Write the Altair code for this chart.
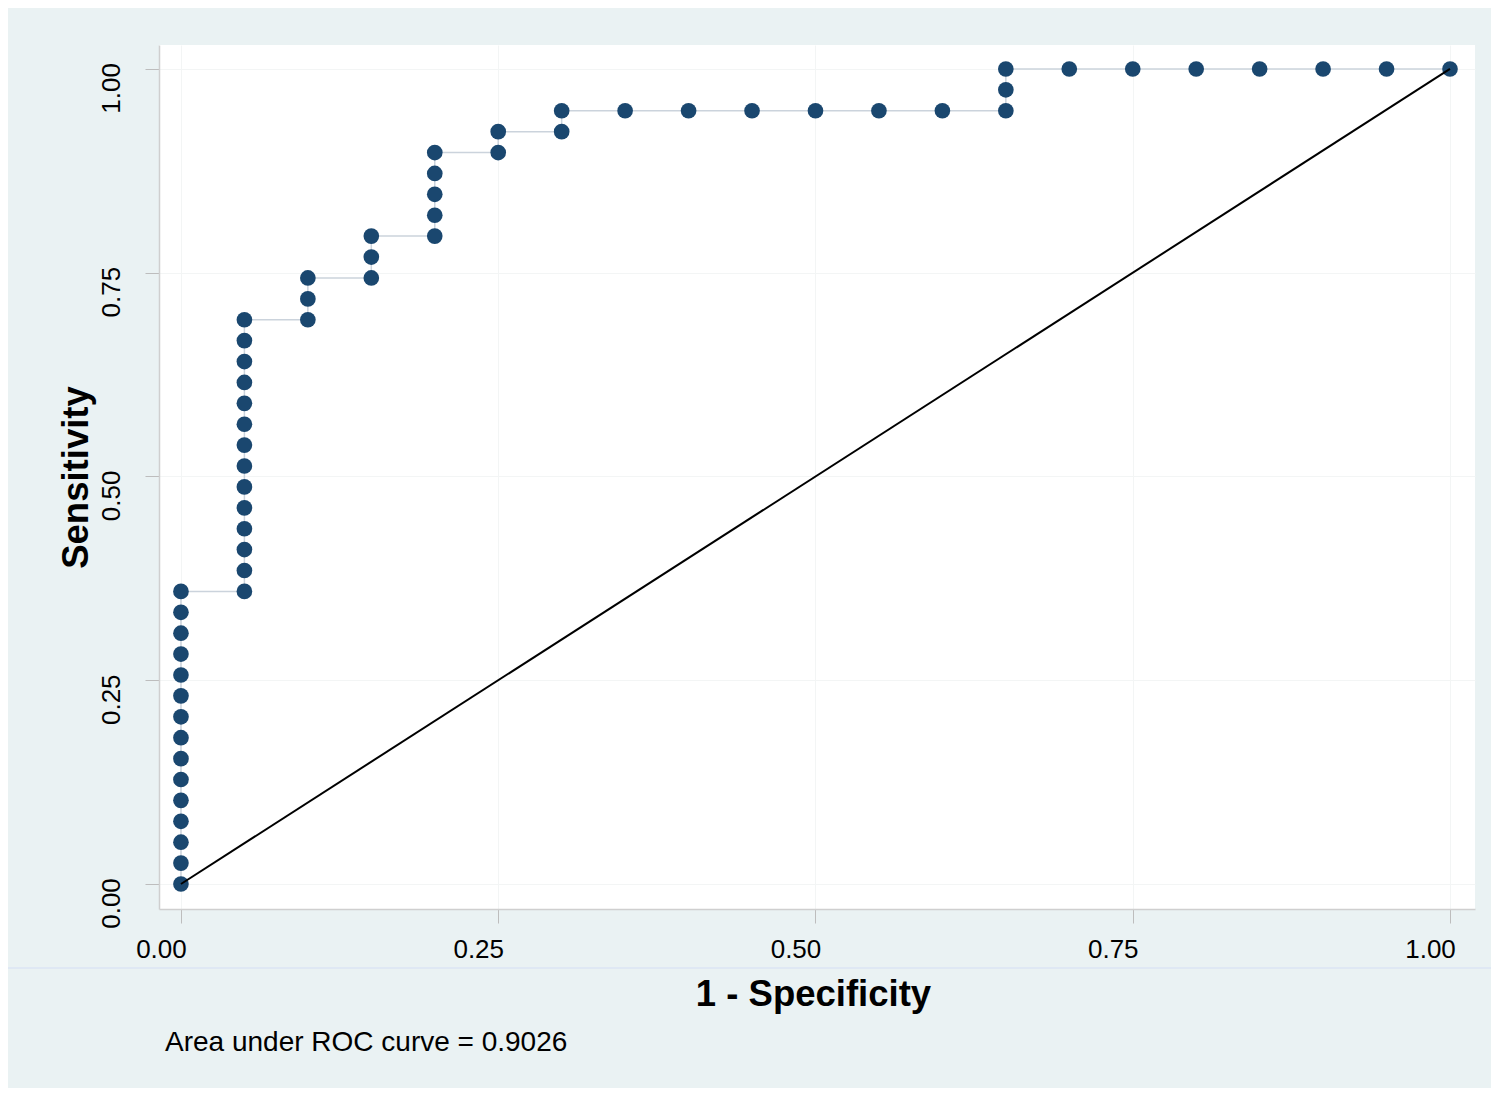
import altair as alt
import pandas as pd

# ROC points (1 - specificity, sensitivity), in curve order
fpr = [0.00, 0.00, 0.00, 0.00, 0.00, 0.00, 0.00, 0.00, 0.00, 0.00, 0.00, 0.00, 0.00, 0.00, 0.00,
       0.05, 0.05, 0.05, 0.05, 0.05, 0.05, 0.05, 0.05, 0.05, 0.05, 0.05, 0.05, 0.05, 0.05,
       0.10, 0.10, 0.10,
       0.15, 0.15, 0.15,
       0.20, 0.20, 0.20, 0.20, 0.20,
       0.25, 0.25,
       0.30, 0.30,
       0.35, 0.40, 0.45, 0.50, 0.55, 0.60,
       0.65, 0.65, 0.65,
       0.70, 0.75, 0.80, 0.85, 0.90, 0.95, 1.00]
sens = [0.0000, 0.0256, 0.0513, 0.0769, 0.1026, 0.1282, 0.1538, 0.1795, 0.2051, 0.2308,
        0.2564, 0.2821, 0.3077, 0.3333, 0.3590,
        0.3590, 0.3846, 0.4103, 0.4359, 0.4615, 0.4872, 0.5128, 0.5385, 0.5641, 0.5897,
        0.6154, 0.6410, 0.6667, 0.6923,
        0.6923, 0.7179, 0.7436,
        0.7436, 0.7692, 0.7949,
        0.7949, 0.8205, 0.8462, 0.8718, 0.8974,
        0.8974, 0.9231,
        0.9231, 0.9487,
        0.9487, 0.9487, 0.9487, 0.9487, 0.9487, 0.9487,
        0.9487, 0.9744, 1.0000,
        1.0000, 1.0000, 1.0000, 1.0000, 1.0000, 1.0000, 1.0000]

ref_x = [0.0, 1.0]
ref_y = [0.0, 1.0]

tick_values = [0.0, 0.25, 0.5, 0.75, 1.0]
note_text = "Area under ROC curve = 0.9026"

df = pd.DataFrame({"fpr": fpr, "sens": sens, "order": list(range(len(fpr)))})
ref = pd.DataFrame({"fpr": ref_x, "sens": ref_y})

FONT = "Liberation Sans"
W, H = 1316, 864

xscale = alt.Scale(domain=[-0.0173, 1.0197], nice=False, zero=False)
yscale = alt.Scale(domain=[-0.0307, 1.0294], nice=False, zero=False)

xaxis = alt.Axis(
    title="1 - Specificity", values=tick_values, format=".2f",
    labelOffset=-20, labelPadding=13, tickSize=14,
    labelFontSize=26, labelFont=FONT, labelColor="black", labelOverlap=False,
    labelFlush=False,
    titleFontSize=36.5, titleFont=FONT, titleFontWeight="bold", titleColor="black",
    titleX=654, titleY=96, titleBaseline="alphabetic", titleAlign="center",
)
yaxis = alt.Axis(
    title="Sensitivity", values=tick_values, format=".2f",
    labelAngle=270, labelAlign="center", labelBaseline="alphabetic",
    labelOffset=19, labelPadding=26, tickSize=14,
    labelFontSize=26, labelFont=FONT, labelColor="black", labelOverlap=False,
    labelFlush=False,
    titleFontSize=36.5, titleFont=FONT, titleFontWeight="bold", titleColor="black",
    titleAngle=270, titleX=-72, titleY=432, titleBaseline="alphabetic", titleAlign="center",
)

base = alt.Chart(df)

line = base.mark_line(color="#CBD3DC", strokeWidth=1.5).encode(
    x=alt.X("fpr:Q", scale=xscale, axis=xaxis),
    y=alt.Y("sens:Q", scale=yscale, axis=yaxis),
    order="order:Q",
)
points = base.mark_circle(color="#1A476F", opacity=1, size=245).encode(
    x=alt.X("fpr:Q", scale=xscale),
    y=alt.Y("sens:Q", scale=yscale),
)
diag = alt.Chart(ref).mark_line(color="black", strokeWidth=2).encode(
    x=alt.X("fpr:Q", scale=xscale),
    y=alt.Y("sens:Q", scale=yscale),
)
sep = alt.Chart(pd.DataFrame({"v": [0]})).mark_rule(color="#D4DEF4", strokeWidth=1).encode(
    x=alt.value(-151), x2=alt.value(W + 16), y=alt.value(923)
)

chart = alt.layer(line, points, diag, sep).properties(
    width=W, height=H,
    autosize=alt.AutoSizeParams(type="none"),
    padding={"left": 151, "top": 37, "right": 16, "bottom": 179},
    background="#EAF2F3",
    title=alt.TitleParams(
        text=note_text, orient="bottom", anchor="start", frame="group",
        font=FONT, fontSize=28, fontWeight="normal", color="black",
        dx=6, offset=38, baseline="alphabetic",
    ),
).configure_view(
    fill="white", strokeWidth=0,
).configure_axis(
    domainColor="#CFCFCF", domainWidth=1.5,
    tickColor="#BDBDBD", tickWidth=1,
    gridColor="#F3F5F5", gridWidth=1,
)

chart.save("out.html", embed_options={"renderer": "svg", "actions": False})
